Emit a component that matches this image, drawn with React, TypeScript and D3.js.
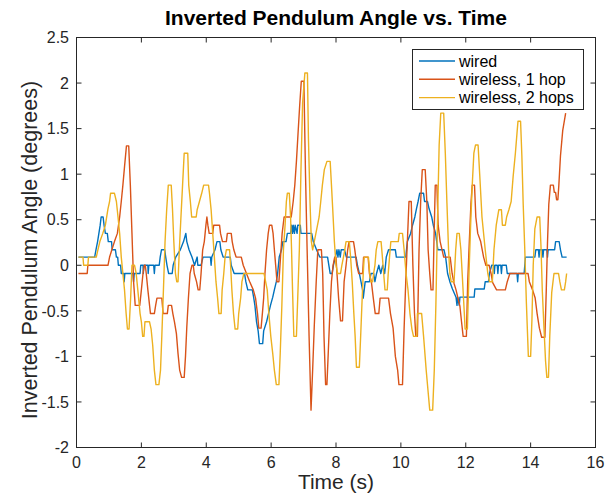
import React from "react";
import * as d3 from "d3";

type Pt = [number, number];

const title = "Inverted Pendulum Angle vs. Time";
const xLabel = "Time (s)";
const yLabel = "Inverted Pendulum Angle (degrees)";
const xTicks = [0, 2, 4, 6, 8, 10, 12, 14, 16];
const yTicks = [-2, -1.5, -1, -0.5, 0, 0.5, 1, 1.5, 2, 2.5];
const seriesNames = ["wired", "wireless, 1 hop", "wireless, 2 hops"];
const seriesColors = ["#0072BD", "#D95319", "#EDB120"];

const wired: Pt[] = [
  [0.06,0.09],[0.56,0.09],[0.60,0.17],[0.65,0.26],[0.69,0.35],[0.73,0.44],[0.76,0.53],[0.82,0.53],[0.85,0.44],[0.89,0.35],[0.95,0.35],[0.98,0.26],[1.08,0.26],[1.10,0.17],[1.20,0.17],[1.23,0.09],[1.27,0.09],[1.29,0],[1.36,0],[1.38,-0.09],[1.46,-0.09],[1.47,-0.18],[1.49,-0.09],[1.74,-0.09],[1.76,-0.18],[1.78,-0.09],[1.96,-0.09],[1.98,0],[2.05,0],[2.06,-0.09],[2.08,0],[2.20,0],[2.21,-0.09],[2.23,0],[2.38,0],[2.40,-0.09],[2.42,0],[2.55,0],[2.58,0.09],[2.62,0.17],[2.72,0.17],[2.75,0.09],[2.79,0],[2.84,-0.09],[2.95,-0.09],[2.98,0],[3.06,0.09],[3.20,0.17],[3.30,0.26],[3.37,0.35],[3.40,0.26],[3.47,0.17],[3.56,0.09],[3.64,0],[3.72,0.09],[3.74,0],[3.84,0],[3.90,0.09],[4.13,0.09],[4.15,0],[4.17,0.09],[4.27,0.17],[4.33,0.26],[4.42,0.26],[4.45,0.17],[4.52,0.09],[4.74,0.09],[4.77,0],[4.86,-0.09],[5.18,-0.09],[5.22,-0.18],[5.28,-0.27],[5.42,-0.27],[5.46,-0.35],[5.50,-0.44],[5.55,-0.62],[5.60,-0.72],[5.64,-0.86],[5.74,-0.86],[5.77,-0.72],[5.86,-0.62],[5.92,-0.53],[5.98,-0.44],[6.05,-0.35],[6.10,-0.27],[6.16,-0.18],[6.20,-0.09],[6.25,0.09],[6.32,0.17],[6.36,0.26],[6.46,0.26],[6.50,0.35],[6.60,0.35],[6.63,0.44],[6.66,0.35],[6.68,0.44],[6.72,0.35],[6.74,0.44],[6.80,0.35],[6.82,0.44],[6.90,0.44],[6.92,0.35],[7.25,0.35],[7.30,0.26],[7.40,0.17],[7.50,0.09],[7.74,0.09],[7.78,0],[7.82,-0.09],[7.88,-0.09],[7.92,0],[7.98,0.09],[8.03,0.17],[8.06,0.09],[8.09,0.17],[8.13,0.09],[8.16,0.17],[8.26,0.17],[8.32,0.09],[8.62,0.09],[8.66,0],[8.72,-0.09],[8.77,-0.18],[8.82,-0.27],[8.84,-0.36],[8.87,-0.27],[8.90,-0.18],[9.03,-0.18],[9.08,-0.09],[9.16,-0.09],[9.20,-0.18],[9.25,-0.09],[9.32,0],[9.38,-0.09],[9.44,0],[9.50,-0.09],[9.55,0.09],[9.62,0.17],[9.83,0.17],[9.86,0.09],[10.15,0.09],[10.20,0.26],[10.30,0.35],[10.36,0.44],[10.43,0.53],[10.48,0.62],[10.53,0.70],[10.58,0.79],[10.70,0.79],[10.73,0.70],[10.82,0.70],[10.87,0.62],[10.95,0.53],[11.0,0.44],[11.07,0.35],[11.14,0.17],[11.33,0.17],[11.38,0.09],[11.44,-0.09],[11.51,-0.18],[11.59,-0.26],[11.70,-0.35],[11.73,-0.44],[11.75,-0.35],[11.80,-0.44],[11.82,-0.35],[12.26,-0.35],[12.28,-0.26],[12.57,-0.26],[12.60,-0.18],[12.70,-0.18],[12.73,-0.09],[12.80,0],[12.86,0],[12.88,-0.09],[12.90,0],[12.97,0],[12.99,-0.09],[13.01,0],[13.08,0],[13.10,-0.09],[13.12,0],[13.25,0],[13.28,-0.09],[13.58,-0.09],[13.60,-0.18],[13.62,-0.09],[13.80,-0.09],[13.84,0.09],[14.13,0.09],[14.16,0.17],[14.24,0.17],[14.26,0.09],[14.28,0.17],[14.36,0.17],[14.38,0.09],[14.40,0.17],[14.50,0.17],[14.52,0.09],[14.54,0.17],[14.74,0.17],[14.77,0.26],[14.88,0.26],[14.92,0.17],[14.97,0.09],[15.11,0.09]
];

const oneHop: Pt[] = [
  [0.06,-0.09],[0.33,-0.09],[0.35,0],[0.97,0],[1.02,0.09],[1.09,0.17],[1.17,0.26],[1.26,0.35],[1.33,0.53],[1.38,0.70],[1.43,0.88],[1.48,1.08],[1.54,1.31],[1.61,1.31],[1.66,0.88],[1.71,0.35],[1.76,-0.18],[1.81,-0.44],[1.95,-0.44],[2.0,-0.27],[2.05,-0.09],[2.09,0],[2.12,0],[2.15,-0.09],[2.20,-0.27],[2.28,-0.53],[2.40,-0.53],[2.44,-0.44],[2.48,-0.36],[2.63,-0.36],[2.67,-0.53],[2.80,-0.53],[2.83,-0.44],[2.93,-0.44],[2.97,-0.53],[3.02,-0.62],[3.08,-0.75],[3.13,-0.97],[3.18,-1.15],[3.24,-1.23],[3.32,-1.23],[3.36,-1.0],[3.40,-0.68],[3.45,-0.36],[3.50,-0.09],[3.56,0],[3.60,0],[3.63,-0.09],[3.70,-0.18],[3.75,-0.27],[3.80,-0.27],[3.84,-0.09],[3.89,0.17],[3.94,0.26],[3.99,0.44],[4.02,0.53],[4.05,0.44],[4.09,0.35],[4.20,0.35],[4.23,0.44],[4.41,0.44],[4.44,0.35],[4.50,0.26],[4.62,0.26],[4.65,0.35],[4.77,0.35],[4.80,0.26],[4.85,0.17],[4.92,0.09],[5.08,0.09],[5.14,0],[5.24,-0.09],[5.34,-0.18],[5.45,-0.27],[5.52,-0.36],[5.58,-0.53],[5.62,-0.69],[5.69,-0.69],[5.73,-0.53],[5.77,-0.36],[5.81,-0.09],[5.86,0.17],[5.91,0.35],[5.95,0.44],[6.02,0.44],[6.06,0.35],[6.10,0.17],[6.14,0],[6.18,-0.18],[6.24,-0.18],[6.29,0.09],[6.34,0.35],[6.40,0.53],[6.62,0.53],[6.68,0.70],[6.73,0.88],[6.78,1.14],[6.83,1.45],[6.88,1.75],[6.93,2.02],[7.01,2.02],[7.06,1.0],[7.11,0.17],[7.17,-0.78],[7.23,-1.59],[7.28,-1.15],[7.33,-0.67],[7.39,-0.18],[7.44,0.17],[7.55,0.17],[7.59,-0.09],[7.63,-0.78],[7.68,-1.31],[7.72,-1.31],[7.76,-0.97],[7.81,-0.53],[7.86,-0.18],[7.91,0],[7.96,0.09],[8.00,0.09],[8.03,-0.09],[8.08,-0.36],[8.14,-0.61],[8.20,-0.61],[8.25,-0.18],[8.31,0],[8.36,0.17],[8.40,0.26],[8.54,0.26],[8.58,0.17],[8.64,0],[8.70,-0.09],[8.82,-0.09],[8.85,0.09],[8.99,0.09],[9.03,-0.09],[9.09,-0.18],[9.15,-0.36],[9.21,-0.53],[9.32,-0.53],[9.36,-0.36],[9.62,-0.36],[9.68,-0.53],[9.76,-0.69],[9.83,-1.0],[9.90,-1.15],[9.94,-1.31],[10.05,-1.31],[10.10,-0.69],[10.15,-0.18],[10.20,0.26],[10.25,0.70],[10.32,0.70],[10.37,0],[10.42,-0.53],[10.46,-0.78],[10.51,-0.78],[10.56,0.17],[10.61,0.70],[10.66,1.05],[10.75,1.05],[10.80,0.70],[10.84,0.17],[10.89,-0.09],[10.93,-0.27],[10.99,-0.27],[11.02,0.26],[11.06,0.88],[11.11,0.88],[11.15,0.44],[11.21,0.26],[11.27,0.17],[11.32,0.09],[11.52,0.09],[11.58,-0.09],[11.64,-0.2],[11.70,-0.27],[11.76,-0.36],[11.82,-0.45],[11.87,-0.62],[11.92,-0.78],[12.02,-0.78],[12.06,-0.18],[12.11,0.26],[12.16,0.68],[12.20,0.88],[12.27,0.88],[12.31,0.53],[12.37,0.35],[12.46,0.26],[12.55,0.09],[12.62,0],[12.72,0],[12.78,-0.09],[12.83,-0.19],[12.95,-0.27],[13.22,-0.27],[13.28,-0.18],[13.36,-0.09],[13.92,-0.09],[13.96,-0.18],[14.06,-0.27],[14.14,-0.36],[14.20,-0.53],[14.27,-0.69],[14.34,-0.79],[14.44,-0.79],[14.48,-0.3],[14.52,0.25],[14.56,0.67],[14.61,0.88],[14.70,0.88],[14.73,0.80],[14.77,0.80],[14.80,0.72],[14.84,0.72],[14.87,0.88],[14.92,1.2],[14.99,1.48],[15.08,1.67]
];

const twoHops: Pt[] = [
  [0.06,0.09],[0.20,0.09],[0.22,0],[0.35,0],[0.37,0.09],[0.61,0.09],[0.66,0.17],[0.72,0.26],[0.81,0.35],[0.89,0.44],[0.97,0.62],[1.02,0.70],[1.05,0.79],[1.17,0.79],[1.23,0.70],[1.28,0.53],[1.33,0.35],[1.38,0.09],[1.43,-0.09],[1.48,-0.27],[1.53,-0.53],[1.57,-0.70],[1.62,-0.70],[1.67,-0.35],[1.71,0],[1.79,0],[1.84,-0.09],[1.89,-0.27],[1.96,-0.53],[2.0,-0.62],[2.04,-0.78],[2.08,-0.78],[2.11,-0.62],[2.25,-0.62],[2.30,-0.70],[2.35,-0.88],[2.40,-1.15],[2.45,-1.31],[2.54,-1.31],[2.59,-1.15],[2.63,-0.78],[2.68,-0.27],[2.73,0.26],[2.78,0.61],[2.83,0.88],[2.92,0.88],[2.96,0.61],[3.0,0.26],[3.05,-0.09],[3.09,-0.18],[3.13,-0.18],[3.17,0.17],[3.22,0.53],[3.27,0.88],[3.32,1.23],[3.43,1.23],[3.46,0.88],[3.51,0.70],[3.55,0.53],[3.69,0.53],[3.72,0.61],[3.79,0.70],[3.86,0.79],[3.92,0.88],[4.07,0.88],[4.10,0.79],[4.15,0.61],[4.20,0.35],[4.25,0.09],[4.30,-0.18],[4.35,-0.36],[4.39,-0.53],[4.46,-0.53],[4.49,-0.27],[4.54,-0.09],[4.58,0.09],[4.62,0.17],[4.72,0.17],[4.75,0],[4.79,-0.27],[4.84,-0.53],[4.89,-0.70],[4.97,-0.70],[5.0,-0.53],[5.06,-0.36],[5.10,-0.18],[5.16,-0.09],[5.78,-0.09],[5.83,-0.18],[5.88,-0.27],[5.93,-0.53],[5.99,-0.78],[6.05,-0.97],[6.10,-1.15],[6.16,-1.31],[6.24,-1.31],[6.28,-0.97],[6.33,-0.45],[6.38,0.17],[6.43,0.44],[6.47,0.70],[6.50,0.79],[6.56,0.79],[6.60,0.53],[6.63,0.17],[6.66,-0.27],[6.70,-0.78],[6.78,-0.78],[6.82,-0.36],[6.87,0.17],[6.92,1.05],[6.97,1.78],[7.04,2.11],[7.12,2.11],[7.15,1.40],[7.20,0.68],[7.24,0.26],[7.28,0.17],[7.33,0.26],[7.38,0.35],[7.43,0.44],[7.48,0.53],[7.53,0.70],[7.58,0.88],[7.64,1.05],[7.72,1.14],[7.82,1.14],[7.86,0.88],[7.90,0.61],[7.95,0.26],[8.0,0],[8.05,-0.09],[8.14,-0.09],[8.18,0],[8.23,0.09],[8.27,0.17],[8.31,0.26],[8.41,0.26],[8.45,0.09],[8.50,-0.18],[8.55,-0.53],[8.59,-0.78],[8.63,-1.12],[8.72,-1.12],[8.76,-0.78],[8.80,-0.42],[8.84,-0.09],[8.87,0.09],[9.0,0.09],[9.04,-0.09],[9.07,-0.18],[9.13,-0.18],[9.16,-0.09],[9.20,0],[9.24,0.17],[9.29,0.26],[9.39,0.26],[9.43,0.09],[9.47,-0.09],[9.51,-0.27],[9.58,-0.27],[9.61,-0.09],[9.65,0.09],[9.69,0.26],[9.92,0.26],[9.95,0.35],[10.05,0.35],[10.10,0.17],[10.16,-0.09],[10.22,-0.27],[10.28,-0.53],[10.34,-0.70],[10.39,-0.78],[10.49,-0.78],[10.51,-0.53],[10.64,-0.53],[10.70,-0.78],[10.78,-1.15],[10.89,-1.59],[10.98,-1.59],[11.03,-1.15],[11.08,-0.42],[11.13,0.50],[11.18,1.32],[11.23,1.67],[11.32,1.67],[11.37,1.23],[11.42,0.68],[11.47,0.17],[11.51,-0.09],[11.55,-0.18],[11.64,-0.18],[11.69,0.17],[11.73,0.35],[11.80,0.35],[11.85,0.17],[11.89,-0.09],[11.94,-0.42],[11.98,-0.70],[12.05,-0.70],[12.10,-0.09],[12.15,0.44],[12.20,0.88],[12.25,1.23],[12.30,1.32],[12.38,1.32],[12.43,1.0],[12.50,0.53],[12.60,0.17],[12.68,-0.09],[12.73,-0.18],[12.82,-0.18],[12.87,0.17],[12.94,0.44],[13.02,0.61],[13.10,0.61],[13.13,0.44],[13.22,0.44],[13.26,0.53],[13.33,0.61],[13.40,0.70],[13.46,0.97],[13.53,1.23],[13.58,1.45],[13.61,1.58],[13.69,1.58],[13.73,1.2],[13.77,0.68],[13.82,0.17],[13.87,-0.42],[13.93,-1.0],[14.0,-1.0],[14.04,-0.6],[14.08,0],[14.13,0.40],[14.20,0.53],[14.28,0.53],[14.32,0.2],[14.36,-0.28],[14.42,-0.75],[14.46,-1.05],[14.50,-1.23],[14.55,-1.23],[14.59,-0.78],[14.65,-0.30],[14.72,-0.09],[14.86,-0.09],[14.90,-0.18],[14.95,-0.27],[15.04,-0.27],[15.08,-0.18],[15.11,-0.09]
];

const allSeries = [wired, oneHop, twoHops];

const W = 613;
const H = 497;
const L = 76.5, R = 595.5, T = 37.5, B = 447.5;
const FONT = "'Liberation Sans', Arial, Helvetica, sans-serif";
const AXC = "#262626";

export default function App() {
  const x = d3.scaleLinear().domain([0, 16]).range([L, R]);
  const y = d3.scaleLinear().domain([-2, 2.5]).range([B, T]);
  const line = d3.line<Pt>().x(d => x(d[0])).y(d => y(d[1]));
  const tl = 5;
  const fmt = (v: number) => String(v);

  return (
    <svg width={W} height={H} style={{ position: "absolute", left: 0, top: 0, background: "#fff" }} fontFamily={FONT}>
      <rect x={0} y={0} width={W} height={H} fill="#fff" />
      <defs>
        <clipPath id="clip"><rect x={L} y={T} width={R - L} height={B - T} /></clipPath>
      </defs>
      <g clipPath="url(#clip)">
        {allSeries.map((s, i) => (
          <path key={i} d={line(s) || ""} fill="none" stroke={seriesColors[i]} strokeWidth={1.4} strokeLinejoin="round" />
        ))}
      </g>
      <rect x={L} y={T} width={R - L} height={B - T} fill="none" stroke={AXC} strokeWidth={1} />
      {xTicks.map(t => (
        <g key={"x" + t}>
          <line x1={x(t)} x2={x(t)} y1={B} y2={B - tl} stroke={AXC} />
          <line x1={x(t)} x2={x(t)} y1={T} y2={T + tl} stroke={AXC} />
          <text x={x(t)} y={468} textAnchor="middle" fontSize={16} fill={AXC}>{fmt(t)}</text>
        </g>
      ))}
      {yTicks.map(t => (
        <g key={"y" + t}>
          <line x1={L} x2={L + tl} y1={y(t)} y2={y(t)} stroke={AXC} />
          <line x1={R} x2={R - tl} y1={y(t)} y2={y(t)} stroke={AXC} />
          <text x={69} y={y(t) + 5.7} textAnchor="end" fontSize={16} fill={AXC}>{fmt(t)}</text>
        </g>
      ))}
      <text x={(L + R) / 2} y={25} textAnchor="middle" fontSize={21} fontWeight="bold" fill="#000">{title}</text>
      <text x={(L + R) / 2} y={489} textAnchor="middle" fontSize={21} fill={AXC}>{xLabel}</text>
      <text transform={`translate(37,250) rotate(-90)`} textAnchor="middle" fontSize={21.5} fill={AXC}>{yLabel}</text>
      <g>
        <rect x={412.5} y={49.5} width={171} height={60} fill="#fff" stroke={AXC} strokeWidth={1} />
        {seriesNames.map((n, i) => {
          const yy = 61 + i * 18.3;
          return (
            <g key={n}>
              <line x1={419} x2={455} y1={yy} y2={yy} stroke={seriesColors[i]} strokeWidth={1.4} />
              <text x={459} y={yy + 5.6} fontSize={16} fill="#000">{n}</text>
            </g>
          );
        })}
      </g>
    </svg>
  );
}
